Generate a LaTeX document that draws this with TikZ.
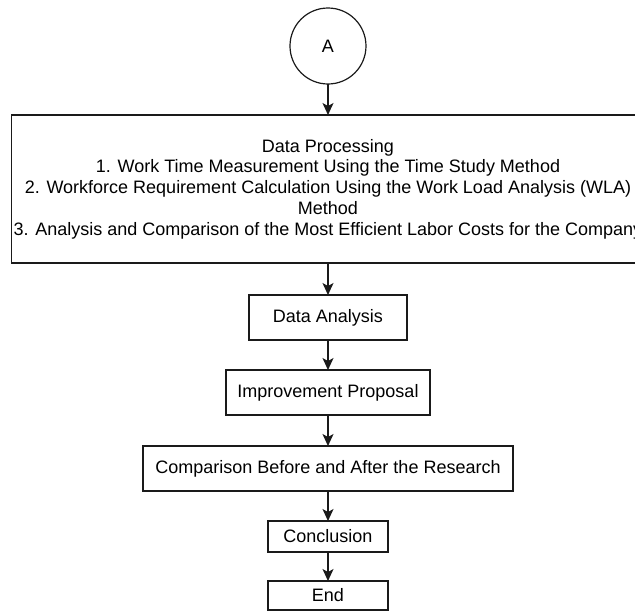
\documentclass[tikz,border=0pt]{standalone}
\usepackage{fontspec}
\setmainfont{Liberation Sans}
\usepackage{xcolor}
\usepackage{tikz}
\usetikzlibrary{positioning,arrows.meta}
\definecolor{ctrazo}{HTML}{1A1A1A}
\tikzset{
  paso/.style={rectangle, draw=ctrazo, line width=1.2pt, inner sep=2pt, outer sep=0pt,
    align=center, minimum height=45pt, font=\fontsize{18pt}{20.7pt}\selectfont},
  circulo/.style={circle, draw=ctrazo, line width=1.2pt, inner sep=0pt, outer sep=0pt,
    minimum size=76pt, font=\fontsize{18pt}{20.7pt}\selectfont},
  flecha/.style={-{Stealth[length=12pt,width=11pt,inset=3pt]}, line width=1.2pt, draw=ctrazo},
}

\begin{document}
\begin{tikzpicture}[node distance=30pt]
  \path[use as bounding box, clip] (-328pt,46pt) rectangle (307pt,-565pt);
  \node[circulo] (a) at (0,0) {A};
  \node[paso, minimum width=631pt, minimum height=148pt, below=31pt of a] (dp)
    {Data Processing\\
     1. Work Time Measurement Using the Time Study Method\\
     2. Workforce Requirement Calculation Using the Work Load Analysis (WLA)\\
     Method\\
     3. Analysis and Comparison of the Most Efficient Labor Costs for the Company};
  \node[paso, minimum width=158pt, below=32pt of dp] (da) {Data Analysis};
  \node[paso, minimum width=204pt, below=of da] (ip) {Improvement Proposal};
  \node[paso, minimum width=370pt, below=31pt of ip] (cb) {Comparison Before and After the Research};
  \node[paso, minimum width=120pt, minimum height=31pt, below=of cb] (cc) {Conclusion};
  \node[paso, minimum width=120pt, minimum height=29pt, below=29pt of cc] (fin) {End};
  \draw[flecha] (a) -- (dp);
  \draw[flecha] (dp) -- (da);
  \draw[flecha] (da) -- (ip);
  \draw[flecha] (ip) -- (cb);
  \draw[flecha] (cb) -- (cc);
  \draw[flecha] (cc) -- (fin);
\end{tikzpicture}
\end{document}
